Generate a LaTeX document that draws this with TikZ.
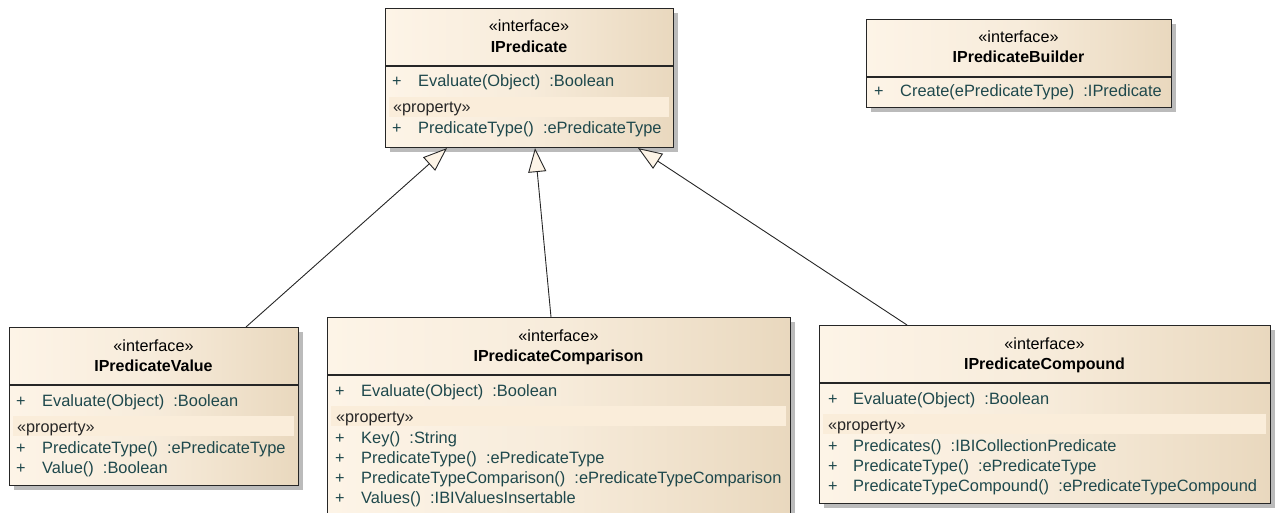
\documentclass[tikz,border=0pt]{standalone}
\usepackage{fontspec}
\setmainfont{Liberation Sans}
\usetikzlibrary{arrows.meta,shadows}
\definecolor{creamL}{RGB}{253,244,231}
\definecolor{creamR}{RGB}{233,216,190}
\definecolor{bandc}{RGB}{250,237,218}
\definecolor{membc}{RGB}{30,72,76}
\definecolor{shadowc}{RGB}{170,170,170}
\tikzset{
  umlbox/.style={rectangle, draw=black!85, line width=1.1pt, anchor=north west, inner sep=0pt,
    left color=creamL, right color=creamR, middle color=creamL!70!creamR,
    drop shadow={shadow xshift=4pt, shadow yshift=-4pt, fill=shadowc, opacity=0.8}},
  divline/.style={draw=black!85, line width=1.1pt},
  band/.style={fill=bandc},
  stereo/.style={anchor=base, inner sep=0pt, font=\fontsize{16.2}{19}\selectfont},
  title/.style={anchor=base, inner sep=0pt, font=\fontsize{16}{19}\selectfont\bfseries},
  prop/.style={anchor=base west, inner sep=0pt, text=black!85, font=\fontsize{16.2}{19}\selectfont},
  plus/.style={anchor=base west, inner sep=0pt, text=membc, font=\fontsize{16.2}{19}\selectfont},
  memb/.style={anchor=base west, inner sep=0pt, text=membc, font=\fontsize{16.4}{19}\selectfont},
  realize/.style={draw=black!85, line width=0.9pt,
    -{Triangle[open, length=24pt, width=18pt, fill=creamL, line width=0.9pt]}},
}
\begin{document}
\begin{tikzpicture}[x=1pt,y=-1pt]
\useasboundingbox (0,0) rectangle (1276,513);
\clip (0,0) rectangle (1276,513);

% ---------- IPredicate ----------
\node[umlbox, minimum width=288pt, minimum height=139pt] (pred) at (385,8) {};
\draw[divline] (385,66) -- (673,66);
\fill[band] (389,97) rectangle (669,117);
\node[stereo] (predS) at (529,32) {«interface»};
\node[title] (predT) at (529,53) {IPredicate};
\node[plus] (predP1) at (392,87) {+};
\node[memb] (predM1) at (418,87) {Evaluate(Object)\ \ :Boolean};
\node[prop] (predPr) at (393,113) {«property»};
\node[plus] (predP2) at (392,134) {+};
\node[memb] (predM2) at (418,134) {PredicateType()\ \ :ePredicateType};

% ---------- IPredicateBuilder ----------
\node[umlbox, minimum width=305pt, minimum height=88pt] (bld) at (866,19) {};
\draw[divline] (866,77) -- (1171,77);
\node[stereo] (bldS) at (1018.5,43) {«interface»};
\node[title] (bldT) at (1018.5,63) {IPredicateBuilder};
\node[plus] (bldP1) at (874,97) {+};
\node[memb] (bldM1) at (900,97) {Create(ePredicateType)\ \ :IPredicate};

% ---------- IPredicateValue ----------
\node[umlbox, minimum width=289pt, minimum height=158pt] (val) at (9,327) {};
\draw[divline] (9,385) -- (298,385);
\fill[band] (13,416) rectangle (294,436);
\node[stereo] (valS) at (153.5,351) {«interface»};
\node[title] (valT) at (153.5,371) {IPredicateValue};
\node[plus] (valP1) at (16,406) {+};
\node[memb] (valM1) at (42,406) {Evaluate(Object)\ \ :Boolean};
\node[prop] (valPr) at (17,432) {«property»};
\node[plus] (valP2) at (16,453) {+};
\node[memb] (valM2) at (42,453) {PredicateType()\ \ :ePredicateType};
\node[plus] (valP3) at (16,473) {+};
\node[memb] (valM3) at (42,473) {Value()\ \ :Boolean};

% ---------- IPredicateComparison ----------
\node[umlbox, minimum width=463pt, minimum height=215pt] (cmp) at (327,317) {};
\draw[divline] (327,375) -- (790,375);
\fill[band] (331,406) rectangle (786,426);
\node[stereo] (cmpS) at (558.5,341) {«interface»};
\node[title] (cmpT) at (558.5,361) {IPredicateComparison};
\node[plus] (cmpP1) at (335,396) {+};
\node[memb] (cmpM1) at (361,396) {Evaluate(Object)\ \ :Boolean};
\node[prop] (cmpPr) at (336,422) {«property»};
\node[plus] (cmpP2) at (335,443) {+};
\node[memb] (cmpM2) at (361,443) {Key()\ \ :String};
\node[plus] (cmpP3) at (335,463) {+};
\node[memb] (cmpM3) at (361,463) {PredicateType()\ \ :ePredicateType};
\node[plus] (cmpP4) at (335,483) {+};
\node[memb] (cmpM4) at (361,483) {PredicateTypeComparison()\ \ :ePredicateTypeComparison};
\node[plus] (cmpP5) at (335,503) {+};
\node[memb] (cmpM5) at (361,503) {Values()\ \ :IBIValuesInsertable};

% ---------- IPredicateCompound ----------
\node[umlbox, minimum width=451pt, minimum height=178pt] (cpd) at (819,325) {};
\draw[divline] (819,383) -- (1270,383);
\fill[band] (823,414) rectangle (1266,434);
\node[stereo] (cpdS) at (1044.5,349) {«interface»};
\node[title] (cpdT) at (1044.5,369) {IPredicateCompound};
\node[plus] (cpdP1) at (828,404) {+};
\node[memb] (cpdM1) at (853,404) {Evaluate(Object)\ \ :Boolean};
\node[prop] (cpdPr) at (828,430) {«property»};
\node[plus] (cpdP2) at (828,451) {+};
\node[memb] (cpdM2) at (853,451) {Predicates()\ \ :IBICollectionPredicate};
\node[plus] (cpdP3) at (828,471) {+};
\node[memb] (cpdM3) at (853,471) {PredicateType()\ \ :ePredicateType};
\node[plus] (cpdP4) at (828,491) {+};
\node[memb] (cpdM4) at (853,491) {PredicateTypeCompound()\ \ :ePredicateTypeCompound};

% ---------- realizations ----------
\draw[realize] ([xshift=237pt]val.north west) -- ([xshift=62pt]pred.south west);
\draw[realize] ([xshift=224pt]cmp.north west) -- ([xshift=150pt]pred.south west);
\draw[realize] ([xshift=88pt]cpd.north west) -- ([xshift=253pt]pred.south west);
\end{tikzpicture}
\end{document}
